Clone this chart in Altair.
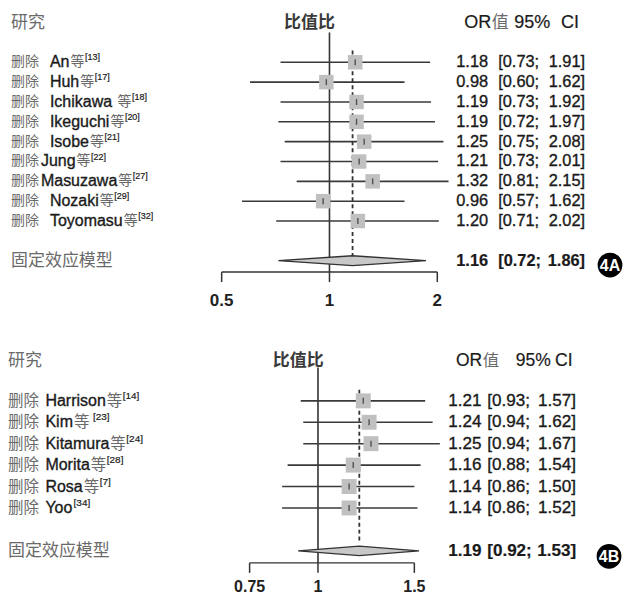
import altair as alt
import pandas as pd

# ---------------- data: panel 4A ----------------
names_a = ["An", "Huh", "Ichikawa ", "Ikeguchi", "Isobe", "Jung", "Masuzawa", "Nozaki", "Toyomasu"]
gap_a = [True, True, True, True, True, False, False, True, True]
deng_a = ["等", "等", "等", "等", "等", "等", "等", "等", "等"]
refs_a = ["[13]", "[17]", "[18]", "[20]", "[21]", "[22]", "[27]", "[29]", "[32]"]
or_a = [1.18, 0.98, 1.19, 1.19, 1.25, 1.21, 1.32, 0.96, 1.20]
lo_a = [0.73, 0.60, 0.73, 0.72, 0.75, 0.73, 0.81, 0.57, 0.71]
hi_a = [1.91, 1.62, 1.92, 1.97, 2.08, 2.01, 2.15, 1.62, 2.02]
pooled_a = [1.16, 0.72, 1.86]
ticks_a = [0.5, 1, 2]
ticklab_a = ["0.5", "1", "2"]

# ---------------- data: panel 4B ----------------
names_b = ["Harrison", "Kim", "Kitamura", "Morita", "Rosa", "Yoo"]
gap_b = [True, True, True, True, True, True]
deng_b = ["等", "等 ", "等", "等", "等", ""]
refs_b = ["[14]", "[23]", "[24]", "[28]", "[7]", "[34]"]
or_b = [1.21, 1.24, 1.25, 1.16, 1.14, 1.14]
lo_b = [0.93, 0.94, 0.94, 0.88, 0.86, 0.86]
hi_b = [1.57, 1.62, 1.67, 1.54, 1.50, 1.52]
pooled_b = [1.19, 0.92, 1.53]
ticks_b = [0.75, 1, 1.5]
ticklab_b = ["0.75", "1", "1.5"]

LAT = "Liberation Sans"
CJK = "Noto Sans CJK SC"
GREY = "#6a6a6a"
INK = "#1a1a1a"
THICK = 0.35

# Arial / Liberation Sans advance widths (per 1000 em) and a few kerning pairs
AW = {' ': 278, 'A': 667, 'H': 722, 'I': 278, 'J': 500, 'K': 667, 'M': 833, 'N': 722,
      'R': 722, 'T': 611, 'Y': 667, 'O': 778, 'a': 556, 'b': 556, 'c': 500, 'e': 556,
      'g': 556, 'h': 556, 'i': 222, 'k': 500, 'm': 833, 'n': 556, 'o': 556, 'r': 333,
      's': 500, 't': 278, 'u': 556, 'w': 722, 'y': 500, 'z': 500}
KERN = {('T', 'o'): -111, ('Y', 'o'): -111}


def tw(s, size):
    w = sum(AW.get(c, 556) for c in s)
    w += sum(KERN.get((a, b), 0) for a, b in zip(s, s[1:]))
    return w * size / 1000.0


def panel(names, gaps, dengs, refs, ors, los, his, pooled, ticks, ticklabs, P):
    n = len(names)
    rows = list(range(1, n + 1))
    name_x = [P["name_x_gap"] if g else P["name_x_nogap"] for g in gaps]
    deng_x = [nx + tw(nm, P["fs_name"]) + 1 for nx, nm in zip(name_x, names)]
    sup_x = [dx + (P["fs_cjk"] if d.strip() else 0) + (3.5 if d.endswith(" ") else 0.5)
             for dx, d in zip(deng_x, dengs)]
    df = pd.DataFrame({
        "row": rows, "pre": ["删除"] * n, "name": [s.strip() for s in names],
        "name_x": name_x, "deng": [d.strip() for d in dengs], "deng_x": deng_x,
        "ref": refs, "sup_x": sup_x, "OR": ors, "lo": los, "hi": his,
        "or_txt": [f"{v:.2f}" for v in ors],
        "lo_txt": [f"[{v:.2f};" for v in los],
        "hi_txt": [f"{v:.2f}]" for v in his],
    })
    rs = n + 2
    xs = alt.Scale(type="log", domain=P["xdom"], range=P["xrange"], nice=False)
    ys = alt.Scale(domain=[1, n], range=[P["y1"], P["yn"]], nice=False, zero=False)
    X = lambda f: alt.X(f, scale=xs, axis=None)
    Y = lambda f: alt.Y(f, scale=ys, axis=None)

    def lat(size, **kw):
        d = dict(align="left", baseline="middle", font=LAT, fontSize=size, color=INK,
                 stroke=INK, strokeWidth=THICK)
        d.update(kw)
        return d

    def cjk(size, **kw):
        d = dict(align="left", baseline="middle", font=CJK, fontSize=size, color=GREY)
        d.update(kw)
        return d

    base = alt.Chart(df)
    layers = []
    # reference line at OR = 1
    layers.append(alt.Chart(pd.DataFrame({"v": [1.0]})).mark_rule(color="#333", strokeWidth=1.6).encode(
        x=X("v:Q"), y=alt.value(P["vl_top"]), y2=alt.value(P["axis_y"])))
    # dashed pooled line
    layers.append(alt.Chart(pd.DataFrame({"v": [pooled[0]]})).mark_rule(
        color="#333", strokeWidth=1.8, strokeDash=[4, 3]).encode(
        x=X("v:Q"), y=alt.value(P["dl_top"]), y2=alt.value(P["dl_bot"])))
    # CI lines
    layers.append(base.mark_rule(color="#3a3a3a", strokeWidth=1.6).encode(
        x=X("lo:Q"), x2="hi:Q", y=Y("row:Q")))
    # squares
    layers.append(base.mark_square(size=P["sq"] ** 2, color="#c0c0c0", opacity=1).encode(
        x=X("OR:Q"), y=Y("row:Q")))
    layers.append(base.mark_tick(orient="vertical", size=6, thickness=1.4, color="#222").encode(
        x=X("OR:Q"), y=Y("row:Q")))
    # diamond
    h = P["dh"]
    dd = pd.DataFrame({"x": [pooled[1], pooled[0], pooled[2]],
                       "yt": [rs, rs - h, rs], "yb": [rs, rs + h, rs]})
    layers.append(alt.Chart(dd).mark_area(fill="#c8c8c8", stroke="#333", strokeWidth=1.3,
                                          opacity=1).encode(
        x=X("x:Q"), y=Y("yt:Q"), y2="yb:Q"))
    # manual axis
    layers.append(alt.Chart(pd.DataFrame({"a": [ticks[0]], "b": [ticks[-1]]})).mark_rule(
        color="#333", strokeWidth=1.5).encode(x=X("a:Q"), x2="b:Q", y=alt.value(P["axis_y"])))
    tdf = pd.DataFrame({"t": ticks, "lab": ticklabs})
    layers.append(alt.Chart(tdf).mark_rule(color="#333", strokeWidth=1.5).encode(
        x=X("t:Q"), y=alt.value(P["axis_y"]), y2=alt.value(P["axis_y"] + 10)))
    layers.append(alt.Chart(tdf).mark_text(font=LAT, fontSize=P["fs_axis"], fontWeight="bold",
                                           color="#222", baseline="middle").encode(
        x=X("t:Q"), y=alt.value(P["axis_lab_y"]), text="lab:N"))
    # study labels
    layers.append(base.mark_text(**cjk(P["fs_cjk"])).encode(
        x=alt.value(P["pre_x"]), y=Y("row:Q"), text="pre:N"))
    layers.append(base.mark_text(**lat(P["fs_name"])).encode(
        x=alt.X("name_x:Q", scale=None, axis=None), y=Y("row:Q"), text="name:N"))
    layers.append(base.mark_text(**cjk(P["fs_cjk"])).encode(
        x=alt.X("deng_x:Q", scale=None, axis=None), y=Y("row:Q"), text="deng:N"))
    layers.append(base.mark_text(**lat(P["fs_sup"], dy=-5, strokeWidth=0.2)).encode(
        x=alt.X("sup_x:Q", scale=None, axis=None), y=Y("row:Q"), text="ref:N"))
    # OR / CI columns
    layers.append(base.mark_text(**lat(P["fs_num"])).encode(
        x=alt.value(P["or_x"]), y=Y("row:Q"), text="or_txt:N"))
    layers.append(base.mark_text(**lat(P["fs_num"])).encode(
        x=alt.value(P["ci_x"]), y=Y("row:Q"), text="lo_txt:N"))
    layers.append(base.mark_text(**lat(P["fs_num"], align="right")).encode(
        x=alt.value(P["ci_r"]), y=Y("row:Q"), text="hi_txt:N"))
    # summary row
    sdf = pd.DataFrame({"row": [rs], "lab": ["固定效应模型"], "o": [f"{pooled[0]:.2f}"],
                        "l": [f"[{pooled[1]:.2f};"], "u": [f"{pooled[2]:.2f}]"]})
    sb = alt.Chart(sdf)
    layers.append(sb.mark_text(**cjk(P["fs_hdr"])).encode(
        x=alt.value(P["pre_x"]), y=Y("row:Q"), text="lab:N"))
    for col, xv, al in [("o", P["or_x"], "left"), ("l", P["ci_x"], "left"), ("u", P["ci_r"], "right")]:
        layers.append(sb.mark_text(**lat(P["fs_num"], align=al, fontWeight="bold", strokeWidth=0.2)).encode(
            x=alt.value(xv), y=Y("row:Q"), text=f"{col}:N"))
    # headers
    hdf = pd.DataFrame({"a": ["研究"], "b": ["比值比"], "c": ["OR"], "d": ["值"],
                        "e": ["95%"], "f": ["CI"]})
    hb = alt.Chart(hdf)
    hy = alt.value(P["hdr_y"])
    layers.append(hb.mark_text(**cjk(P["fs_hdr"])).encode(x=alt.value(P["pre_x"]), y=hy, text="a:N"))
    layers.append(hb.mark_text(**cjk(P["fs_hdr"], align="center", fontWeight="bold", color="#3a3a3a")).encode(
        x=alt.value(P["bzb_x"]), y=hy, text="b:N"))
    layers.append(hb.mark_text(**lat(P["fs_hdr_lat"], strokeWidth=0.2)).encode(
        x=alt.value(P["orh_x"]), y=hy, text="c:N"))
    layers.append(hb.mark_text(**cjk(P["fs_hdr_lat"] - 1)).encode(
        x=alt.value(P["orh_x"] + tw("OR", P["fs_hdr_lat"]) + 0.5), y=hy, text="d:N"))
    layers.append(hb.mark_text(**lat(P["fs_hdr_lat"], strokeWidth=0.2)).encode(
        x=alt.value(P["pct_x"]), y=hy, text="e:N"))
    layers.append(hb.mark_text(**lat(P["fs_hdr_lat"], align="right", strokeWidth=0.2)).encode(
        x=alt.value(P["ci_h_r"]), y=hy, text="f:N"))
    # badge
    bdf = pd.DataFrame({"t": [P["badge"]]})
    layers.append(alt.Chart(bdf).mark_circle(size=616, color="black", opacity=1).encode(
        x=alt.value(P["bx"]), y=alt.value(P["by"])))
    layers.append(alt.Chart(bdf).mark_text(font=LAT, fontSize=16, fontWeight="bold", color="white",
                                           baseline="middle").encode(
        x=alt.value(P["bx"]), y=alt.value(P["by"] + 0.5), text="t:N"))

    return alt.layer(*layers).properties(width=615, height=P["H"])


PA = dict(H=332, xdom=[0.5, 2], xrange=[214, 430], y1=53.9, yn=212.9, dh=0.25, sq=14.5,
          vl_top=24, dl_top=42, dl_bot=254, axis_y=264, axis_lab_y=293.5, fs_axis=17,
          pre_x=3, fs_cjk=14, name_x_gap=42, name_x_nogap=33, fs_name=16, fs_sup=9,
          or_x=449, ci_x=491, ci_r=578, fs_num=16.4,
          hdr_y=14.5, fs_hdr=17, fs_hdr_lat=18, bzb_x=302, orh_x=457, pct_x=507, ci_h_r=572,
          badge="4A", bx=603, by=257)
PB = dict(H=255, xdom=[0.75, 1.5], xrange=[242, 407], y1=61, yn=168.3, dh=0.22, sq=15,
          vl_top=27.5, dl_top=50, dl_bot=203, axis_y=223.3, axis_lab_y=247, fs_axis=16,
          pre_x=0, fs_cjk=15.5, name_x_gap=37.5, name_x_nogap=30, fs_name=16, fs_sup=10,
          or_x=441, ci_x=480, ci_r=569, fs_num=17.1,
          hdr_y=21, fs_hdr=17, fs_hdr_lat=17.5, bzb_x=290.7, orh_x=448.7, pct_x=508.7, ci_h_r=565.5,
          badge="4B", bx=602, by=216.7)

top = panel(names_a, gap_a, deng_a, refs_a, or_a, lo_a, hi_a, pooled_a, ticks_a, ticklab_a, PA)
bot = panel(names_b, gap_b, deng_b, refs_b, or_b, lo_b, hi_b, pooled_b, ticks_b, ticklab_b, PB)

chart = alt.vconcat(top, bot, spacing=0).properties(padding=0).configure(
    background="white").configure_view(stroke=None)

chart.save("out.html", embed_options={"renderer": "svg", "actions": False})
